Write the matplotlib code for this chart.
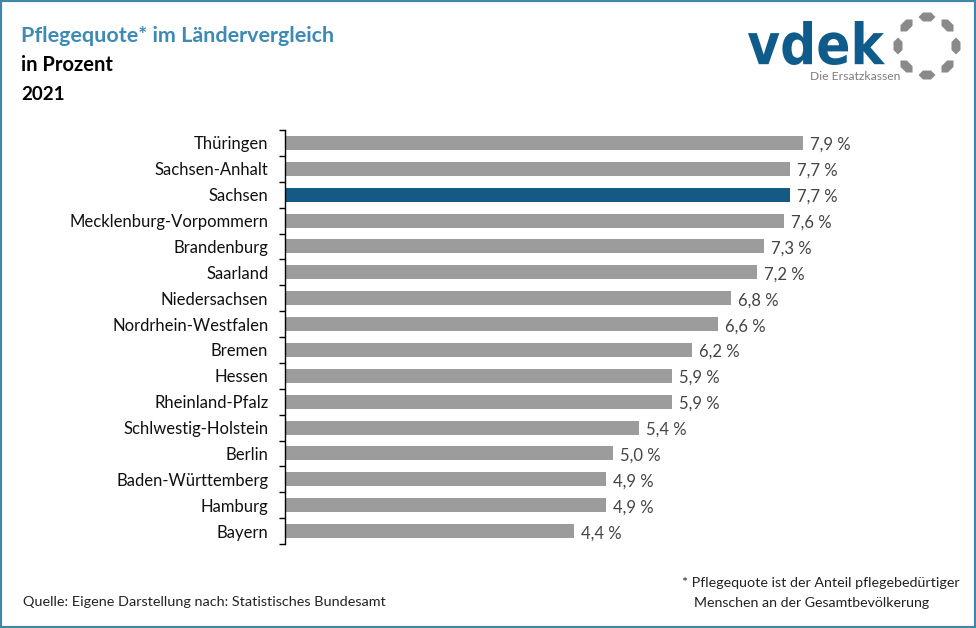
import matplotlib
matplotlib.use('Agg')
import matplotlib.pyplot as plt
from matplotlib.patches import PathPatch, Polygon, Rectangle
from matplotlib.textpath import TextPath
from matplotlib.font_manager import FontProperties
from matplotlib.transforms import Affine2D
import numpy as np

laender = ['Thüringen', 'Sachsen-Anhalt', 'Sachsen', 'Mecklenburg-Vorpommern', 'Brandenburg', 'Saarland',
           'Niedersachsen', 'Nordrhein-Westfalen', 'Bremen', 'Hessen', 'Rheinland-Pfalz', 'Schlwestig-Holstein',
           'Berlin', 'Baden-Württemberg', 'Hamburg', 'Bayern']
quote = [7.9, 7.7, 7.7, 7.6, 7.3, 7.2, 6.8, 6.6, 6.2, 5.9, 5.9, 5.4, 5.0, 4.9, 4.9, 4.4]
highlight = 'Sachsen'

GRAU = '#9c9c9c'
BLAU = '#155a85'
TITEL = '#3d8bb5'
W, H = 976, 628

plt.rcParams['font.family'] = ['Lato', 'DejaVu Sans']

fig = plt.figure(figsize=(W / 100, H / 100), dpi=100)
fig.patches.append(Rectangle((0, 0), 1, 1, transform=fig.transFigure, fill=False, ec='#3f86a8', lw=3))

def fx(px):
    return px / W

def fy(py):
    return 1 - py / H

ax = fig.add_axes([fx(285), fy(544), (W - 285 - 21) / W, 414 / H])
y = np.arange(len(laender))
farben = [BLAU if l == highlight else GRAU for l in laender]
ax.barh(y, quote, height=0.54, color=farben)
ax.set_xlim(0, (W - 285 - 21) / 65.6)
ax.set_ylim(len(laender) - 0.5, -0.5)

for i, v in enumerate(quote):
    txt = f'{v:.1f} %'.replace('.', ',')
    ax.annotate(txt, (v, i), xytext=(5, -1.5), textcoords='offset points', va='center', ha='left',
                fontsize=12, color='#444444')

ax.set_yticks(np.arange(-0.5, len(laender), 1))
ax.set_yticklabels([])
ax.set_yticks(y, laender, minor=True, fontsize=12, color='#111111')
ax.tick_params(axis='y', which='major', length=4.5, width=1, color='black')
ax.tick_params(axis='y', which='minor', length=0, pad=12)
ax.xaxis.set_visible(False)
for s in ['top', 'right', 'bottom']:
    ax.spines[s].set_visible(False)
ax.spines['left'].set_linewidth(1)

fig.text(fx(21), fy(36), 'Pflegequote* im Ländervergleich', fontsize=15.45, fontweight='bold', color=TITEL, va='center')
fig.text(fx(21), fy(65), 'in Prozent', fontsize=14.5, fontweight='bold', color='black', va='center')
fig.text(fx(21), fy(94), '2021', fontsize=13.5, fontweight='bold', color='black', va='center')

fig.text(fx(23), fy(602), 'Quelle: Eigene Darstellung nach: Statistisches Bundesamt', fontsize=10.4, color='#222222', va='center')
fig.text(fx(682), fy(583), '* Pflegequote ist der Anteil pflegebedürtiger', fontsize=10.3, color='#222222', va='center')
fig.text(fx(694), fy(603), 'Menschen an der Gesamtbevölkerung', fontsize=10.2, color='#222222', va='center')

# logo, lettering squeezed to the box it has in the reference
tp = TextPath((0, 0), 'vdek', size=10, prop=FontProperties(family='DejaVu Sans', weight='bold'))
bb = tp.get_extents()
box = Affine2D().translate(-bb.x0, -bb.y0).scale(137 / bb.width, 44 / bb.height).translate(748, H - 65)
fig.patches.append(PathPatch(tp, transform=box, fc='#0f5c8c', ec='none'))
fig.text(fx(810), fy(77), 'Die Ersatzkassen', fontsize=8.7, color='#7d7d7d', va='center')

cx, cy, r = 927, 46, 29
hexa = np.array([(-8.5, 0), (-4, -4.5), (4, -4.5), (8.5, 0), (4, 4.5), (-4, 4.5)])
for a in np.arange(0, 360, 45):
    t = np.deg2rad(a)
    rad = np.array([np.cos(t), np.sin(t)])
    tan = np.array([-np.sin(t), np.cos(t)])
    pts = [(cx, cy) + r * rad + p * tan + q * rad for p, q in hexa]
    fig.patches.append(Polygon([(fx(p), fy(q)) for p, q in pts], transform=fig.transFigure, fc='#8a8a8a', ec='none'))

fig.savefig('out.png', dpi=100)
